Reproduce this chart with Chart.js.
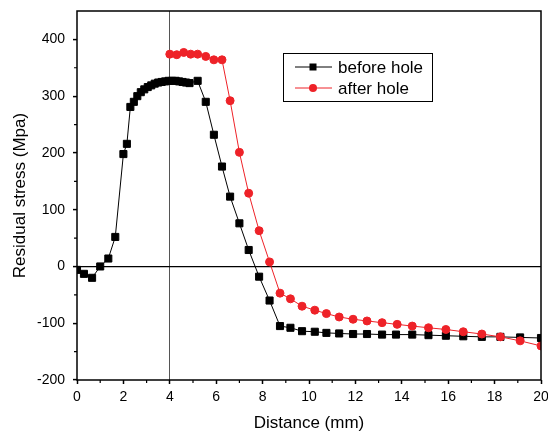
<!DOCTYPE html>
<html>
<head>
<meta charset="utf-8">
<script src="https://cdn.jsdelivr.net/npm/chart.js@4"></script>
<style>
  html, body { margin: 0; padding: 0; background: #fff; }
  #wrap { width: 548px; height: 441px; }
</style>
</head>
<body>
<div id="wrap"><canvas id="stressChart" width="548" height="441"></canvas></div>
<script>
// Residual stress profile
const distBefore = [0, 0.3, 0.65, 1.0, 1.35, 1.65, 2.0, 2.15, 2.3, 2.45, 2.6, 2.75, 2.9, 3.05, 3.2, 3.35, 3.5, 3.65, 3.8, 3.95,
  4.1, 4.25, 4.4, 4.55, 4.7, 4.85, 5.2, 5.55, 5.9, 6.25, 6.6, 7.0, 7.4, 7.85, 8.3, 8.75, 9.2, 9.7, 10.25, 10.75,
  11.3, 11.9, 12.5, 13.15, 13.75, 14.45, 15.15, 15.9, 16.65, 17.45, 18.25, 19.1, 20];
const stressBefore = [-6, -13, -20, 0, 14, 52, 198, 216, 281, 290, 300, 307, 312, 316, 319, 322, 324, 325, 326, 327,
  327, 327, 326, 325, 324, 323, 327, 290, 232, 176, 123, 76, 29, -18, -60, -105, -108, -114, -115, -117,
  -118, -119, -119, -120, -120, -120, -121, -122, -123, -124, -124, -125, -126];

const distAfter = [4.0, 4.3, 4.6, 4.9, 5.2, 5.55, 5.9, 6.25, 6.6, 7.0, 7.4, 7.85, 8.3, 8.75, 9.2, 9.7, 10.25, 10.75,
  11.3, 11.9, 12.5, 13.15, 13.8, 14.45, 15.15, 15.9, 16.65, 17.45, 18.25, 19.1, 20];
const stressAfter = [374, 373, 377, 374, 374, 370, 364, 364, 292, 201, 129, 63, 8, -47, -57, -70, -77, -83,
  -89, -93, -96, -99, -102, -105, -108, -111, -115, -119, -124, -131, -140];

const seriesNames = ['before hole', 'after hole'];
const refX = 4;   // vertical marker line
const refY = 0;   // zero line

const FONT = "Arial, 'Liberation Sans', sans-serif";
const RED = '#ee2228';

function toPoints(xs, ys) {
  return xs.map((x, i) => ({ x: x, y: ys[i] }));
}

// frame, minor ticks and the boxed legend
const framePlugin = {
  id: 'framePlugin',
  afterDraw(chart) {
    const ctx = chart.ctx;
    const a = chart.chartArea;
    const xs = chart.scales.x, ys = chart.scales.y;
    ctx.save();
    ctx.strokeStyle = '#000';
    ctx.lineWidth = 1.5;
    ctx.strokeRect(a.left, a.top, a.right - a.left, a.bottom - a.top);

    // minor ticks halfway between the labelled ones
    ctx.lineWidth = 1.2;
    ctx.beginPath();
    const xt = xs.ticks.map(t => t.value);
    for (let i = 0; i < xt.length - 1; i++) {
      const px = xs.getPixelForValue((xt[i] + xt[i + 1]) / 2);
      ctx.moveTo(px, a.bottom);
      ctx.lineTo(px, a.bottom + 3);
    }
    const yt = ys.ticks.map(t => t.value);
    for (let i = 0; i < yt.length - 1; i++) {
      const py = ys.getPixelForValue((yt[i] + yt[i + 1]) / 2);
      ctx.moveTo(a.left, py);
      ctx.lineTo(a.left - 3, py);
    }
    ctx.stroke();

    // legend
    const bx = 283, by = 53, bw = 149, bh = 48;
    ctx.lineWidth = 1;
    ctx.strokeStyle = '#000';
    ctx.strokeRect(bx + 0.5, by + 0.5, bw, bh);
    const rows = [
      { y: 67, color: '#000', shape: 'rect' },
      { y: 88, color: RED, shape: 'circle' }
    ];
    ctx.font = '17px ' + FONT;
    ctx.textBaseline = 'middle';
    rows.forEach((r, i) => {
      ctx.strokeStyle = r.color;
      ctx.lineWidth = 1;
      ctx.beginPath();
      ctx.moveTo(295, r.y);
      ctx.lineTo(332, r.y);
      ctx.stroke();
      ctx.fillStyle = r.color;
      if (r.shape === 'rect') {
        ctx.fillRect(309.5, r.y - 3.5, 7, 7);
      } else {
        ctx.beginPath();
        ctx.arc(313, r.y, 4, 0, Math.PI * 2);
        ctx.fill();
      }
      ctx.fillStyle = '#000';
      ctx.fillText(seriesNames[i], 338, r.y + 1);
    });
    ctx.restore();
  }
};

new Chart(document.getElementById('stressChart'), {
  type: 'scatter',
  data: {
    datasets: [{
      label: seriesNames[1],
      data: toPoints(distAfter, stressAfter),
      showLine: true,
      borderColor: RED,
      backgroundColor: RED,
      borderWidth: 1,
      pointStyle: 'circle',
      pointRadius: 4,
      pointBorderWidth: 1,
      pointBorderColor: RED,
      order: 0
    }, {
      label: seriesNames[0],
      data: toPoints(distBefore, stressBefore),
      showLine: true,
      borderColor: '#000',
      backgroundColor: '#000',
      borderWidth: 1,
      pointStyle: 'rect',
      pointRadius: 5,
      pointBorderWidth: 1,
      pointBorderColor: '#000',
      order: 1
    }]
  },
  options: {
    responsive: false,
    animation: false,
    layout: { padding: { top: 11, right: 7, left: 0, bottom: 0 }, autoPadding: false },
    plugins: {
      legend: { display: false },
      tooltip: { enabled: false }
    },
    scales: {
      x: {
        type: 'linear',
        min: 0,
        max: 20,
        afterFit: s => { s.height = 61; s.paddingLeft = 0; s.paddingRight = 0; },
        border: { display: false },
        grid: {
          drawOnChartArea: true,
          color: c => (c.tick && c.tick.value === refX) ? '#555' : 'rgba(0,0,0,0)',
          lineWidth: 1,
          tickColor: '#000',
          tickLength: 4,
          tickWidth: 1.5
        },
        ticks: {
          stepSize: 2,
          padding: 5,
          color: '#000',
          font: { family: FONT, size: 14 }
        },
        title: {
          display: true,
          text: 'Distance (mm)',
          color: '#000',
          font: { family: FONT, size: 17 },
          padding: { top: 0, bottom: 7 }
        }
      },
      y: {
        type: 'linear',
        min: -200,
        max: 450,
        afterFit: s => { s.width = 77; s.paddingTop = 0; s.paddingBottom = 0; },
        afterBuildTicks: s => { s.ticks = s.ticks.filter(t => t.value <= 400); },
        border: { display: false },
        grid: {
          drawOnChartArea: true,
          color: c => (c.tick && c.tick.value === refY) ? '#000' : 'rgba(0,0,0,0)',
          lineWidth: 1.2,
          tickColor: '#000',
          tickLength: 4,
          tickWidth: 1.5
        },
        ticks: {
          stepSize: 100,
          padding: 8,
          color: '#000',
          font: { family: FONT, size: 14 }
        },
        title: {
          display: true,
          text: 'Residual stress (Mpa)',
          color: '#000',
          font: { family: FONT, size: 17 },
          padding: { top: 10, bottom: 0 }
        }
      }
    }
  },
  plugins: [framePlugin]
});
</script>
</body>
</html>
